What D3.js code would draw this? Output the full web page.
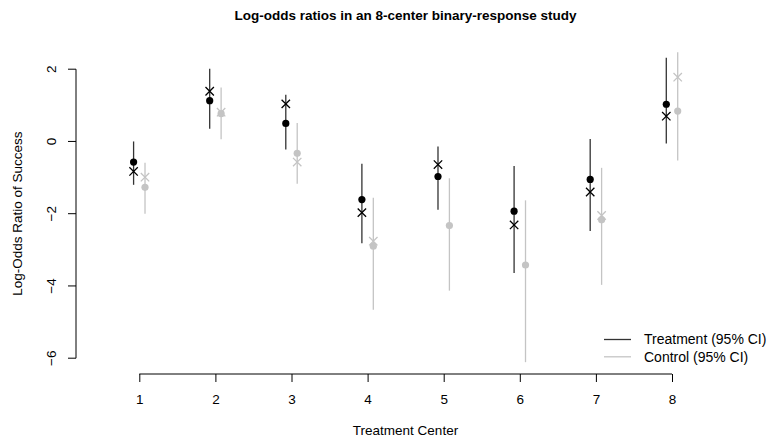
<!DOCTYPE html>
<html><head><meta charset="utf-8">
<script src="https://cdn.jsdelivr.net/npm/d3@7"></script>
<style>body{margin:0;background:#fff}svg{display:block;font-family:"Liberation Sans",Arial,sans-serif}</style>
</head><body><svg id="c" width="769" height="440"></svg>
<script>
const centers = [1,2,3,4,5,6,7,8];
const yTicks = [2,0,-2,-4,-6];
const trtLo  = [-1.20, 0.35, -0.22, -2.82, -1.89, -3.64, -2.48, -0.06];
const trtHi  = [ 0.00, 2.01,  1.29, -0.62, -0.14, -0.68,  0.07,  2.32];
const trtDot = [-0.57, 1.13,  0.50, -1.61, -0.97, -1.93, -1.05,  1.03];
const trtX   = [-0.83, 1.39,  1.04, -1.97, -0.64, -2.31, -1.40,  0.70];
const ctlLo  = [-2.00, 0.06, -1.17, -4.66, -4.13, -6.11, -3.97, -0.53];
const ctlHi  = [-0.59, 1.49,  0.51, -1.56, -1.02, -1.63, -0.73,  2.47];
const ctlDot = [-1.27, 0.77, -0.33, -2.90, -2.33, -3.42, -2.17,  0.84];
const ctlX   = [-0.99, 0.81, -0.57, -2.76, null, null, -2.05,  1.78];
const legendLabels = ["Treatment (95% CI)", "Control (95% CI)"];
const colTrt = "#000", colTrtLine = "#333", colCtl = "#c4c4c4";
const fs = 13.5;

const svg = d3.select("#c");
const x = d3.scaleLinear().domain([1,8]).range([139.3,672]);
const y = d3.scaleLinear().domain([2,-6]).range([69.2,358.2]);
const off = 0.075;

svg.append("text").attr("x",405.5).attr("y",20).attr("text-anchor","middle")
  .attr("font-weight","bold").attr("font-size",13.5).text("Log-odds ratios in an 8-center binary-response study");

// y axis
const ya = svg.append("g").attr("transform","translate(76,0)")
  .call(d3.axisLeft(y).tickValues(yTicks).tickSize(8).tickFormat(d3.format("d")));
ya.select(".domain").attr("stroke","#000").attr("d",`M0,${y(2)}V${y(-6)}`);
ya.selectAll(".tick").attr("transform",null);
ya.selectAll(".tick line").attr("y1",d=>y(d)).attr("y2",d=>y(d));
ya.selectAll(".tick text").attr("font-size",fs).attr("font-family","Liberation Sans, Arial, sans-serif")
  .attr("fill","#000").attr("text-anchor","middle").attr("x",null).attr("y",null)
  .attr("transform",d=>`translate(-25,${y(d)}) rotate(-90)`).attr("dy","0.35em");

// x axis
const xa = svg.append("g").attr("transform","translate(0,374)")
  .call(d3.axisBottom(x).tickValues(centers).tickSize(8).tickFormat(d3.format("d")));
xa.select(".domain").attr("d",`M${x(1)},0H${x(8)}`);
xa.selectAll("text").attr("font-size",fs).attr("font-family","Liberation Sans, Arial, sans-serif").attr("fill","#000").attr("y",20);

svg.append("text").attr("x",405.5).attr("y",435).attr("text-anchor","middle").attr("font-size",fs).text("Treatment Center");
svg.append("text").attr("transform","translate(22,213.7) rotate(-90)").attr("text-anchor","middle").attr("font-size",fs).text("Log-Odds Ratio of Success");

function series(lo,hi,dot,xs,dx,lineCol,ptCol){
  const g = svg.append("g");
  centers.forEach((c,i)=>{
    const px = x(c+dx);
    g.append("line").attr("x1",px).attr("x2",px).attr("y1",y(lo[i])).attr("y2",y(hi[i]))
      .attr("stroke",lineCol).attr("stroke-width",1.3);
    g.append("circle").attr("cx",px).attr("cy",y(dot[i])).attr("r",3.6).attr("fill",ptCol);
    if (xs[i]!==null){
      const py = y(xs[i]), s=4.2;
      g.append("path").attr("d",`M${px-s},${py-s}L${px+s},${py+s}M${px-s},${py+s}L${px+s},${py-s}`)
        .attr("stroke",ptCol).attr("stroke-width",1.3).attr("fill","none");
    }
  });
}
series(trtLo,trtHi,trtDot,trtX,-off,colTrtLine,colTrt);
series(ctlLo,ctlHi,ctlDot,ctlX,off,colCtl,colCtl);

// legend
const lg = svg.append("g");
[colTrtLine,colCtl].forEach((col,i)=>{
  const yy = 339.5 + i*17.3;
  lg.append("line").attr("x1",604).attr("x2",631).attr("y1",yy).attr("y2",yy).attr("stroke",col).attr("stroke-width",1.3);
  lg.append("text").attr("x",644).attr("y",yy).attr("dy","0.35em").attr("font-size",14).text(legendLabels[i]);
});
</script></body></html>
